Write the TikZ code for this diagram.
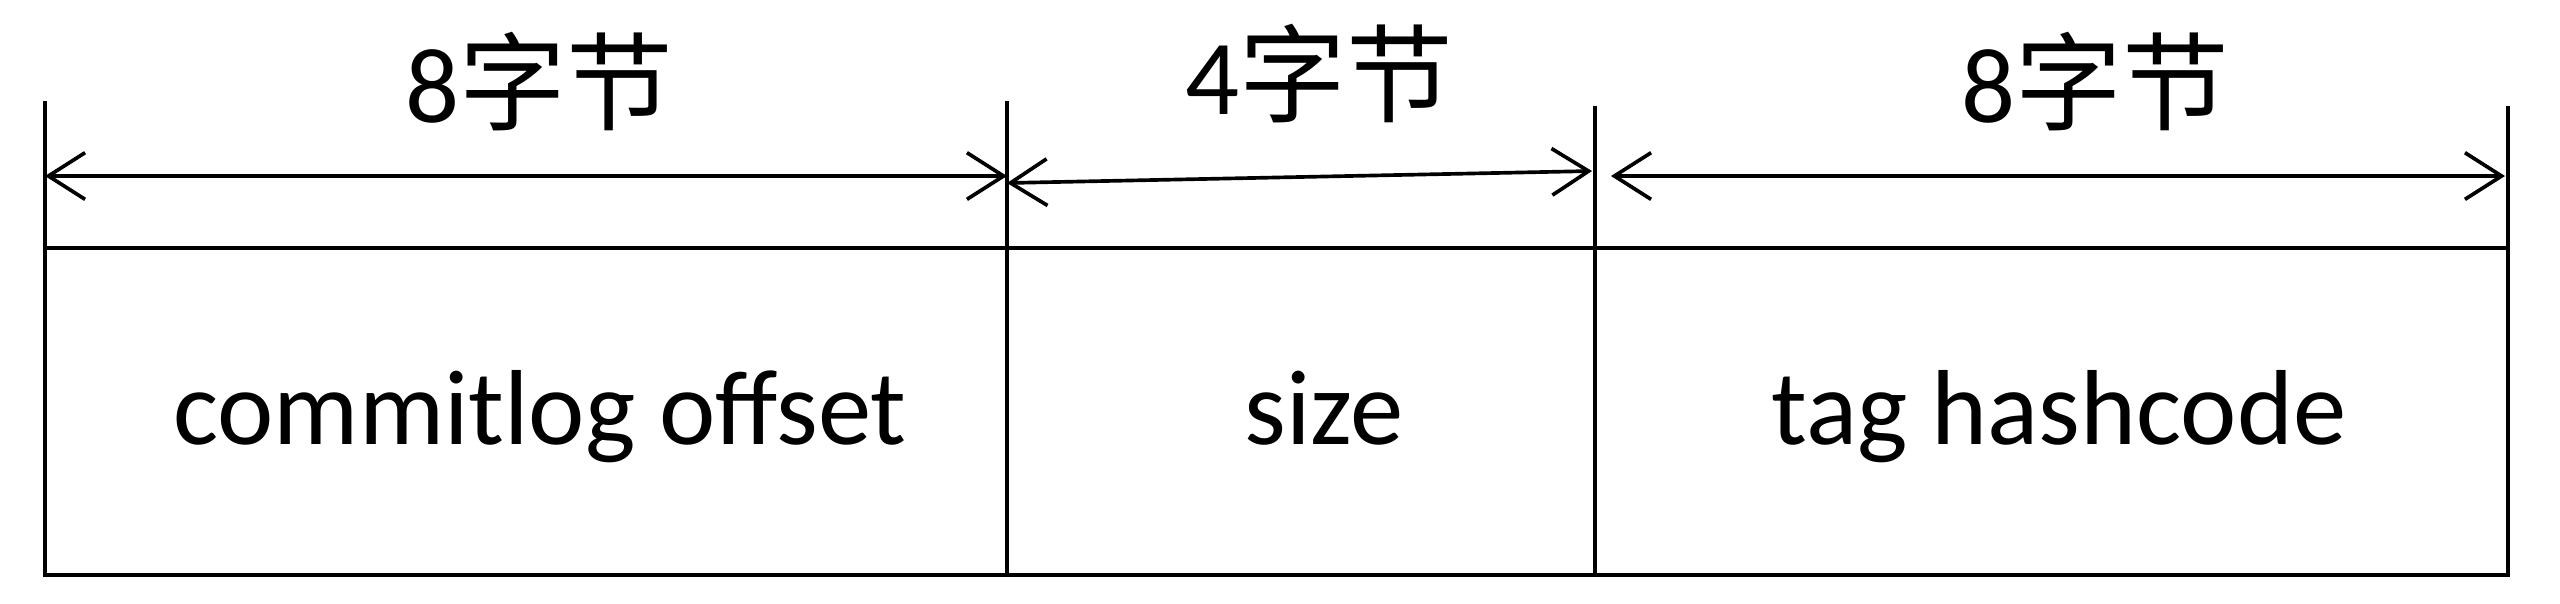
\documentclass[tikz,border=0pt]{standalone}
\usepackage{fontspec}
\setmainfont{Carlito}
\newfontfamily\cjk{Noto Sans CJK SC}
\usetikzlibrary{arrows.meta}

\tikzset{
  field/.style={line width=1.1pt},
  dim/.style={line width=1.1pt, {Straight Barb[length=11pt,width=14pt]}-{Straight Barb[length=11pt,width=14pt]}},
  lbl/.style={anchor=base, inner sep=0.75pt, font=\fontsize{32}{34}\selectfont},
}

\begin{document}
\begin{tikzpicture}[x=0.3pt,y=0.3pt,yscale=-1,xscale=1]
        \useasboundingbox (0,0) rectangle (2560,603);

        %Shape: Rectangle [id:commitlog]
        \draw [field] (45,248) rectangle (1007,575);
        %Shape: Rectangle [id:size]
        \draw [field] (1007,248) rectangle (1595,575);
        %Shape: Rectangle [id:hashcode]
        \draw [field] (1595,248) rectangle (2508,575);

        % Extension lines
        \coordinate (tA) at (45,101);
        \coordinate (tB) at (1007,101);
        \coordinate (tC) at (1595,106);
        \coordinate (tD) at (2508,106);
        \draw [field] (tA) -- (45,248);
        \draw [field] (tB) -- (1007,248);
        \draw [field] (tC) -- (1595,248);
        \draw [field] (tD) -- (2508,248);

        % Dimension arrows
        \coordinate (aL1) at (45,176);
        \coordinate (aR1) at (1007,176);
        \coordinate (aL2) at (1007,183);
        \coordinate (aR2) at (1592,171);
        \coordinate (aL3) at (1611,176);
        \coordinate (aR3) at (2505,176);
        \draw [dim] (aL1) -- (aR1);
        \draw [dim] (aL2) -- (aR2);
        \draw [dim] (aL3) -- (aR3);

        % Text Node
        \draw (539,122) node [lbl] (w1) {8{\cjk 字节}};
        % Text Node
        \draw (1319,114) node [lbl] (w2) {4{\cjk 字节}};
        % Text Node
        \draw (2095,122) node [lbl] (w3) {8{\cjk 字节}};

        % Text Node
        \draw (540,444) node [lbl] (f1) {commitlog offset};
        % Text Node
        \draw (1324,444) node [lbl] (f2) {size};
        % Text Node
        \draw (2059,444) node [lbl] (f3) {tag hashcode};

\end{tikzpicture}
\end{document}
